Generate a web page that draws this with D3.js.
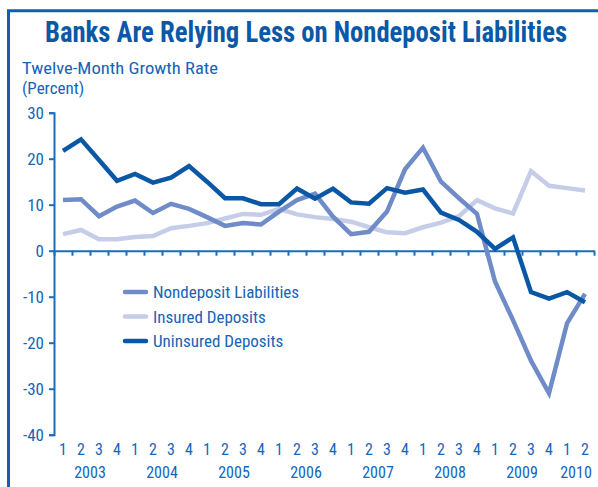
<!DOCTYPE html>
<html>
<head>
<meta charset="utf-8">
<script src="https://cdn.jsdelivr.net/npm/d3@7"></script>
<style>
  body { margin: 0; background: #fff; }
  svg text { font-family: "Liberation Sans Narrow", "Arial Narrow", "Roboto Condensed", sans-serif; }
</style>
</head>
<body>
<script>
var width = 598,
  height = 487;

// quarters 2003Q1 .. 2010Q2
var quarters = [1, 2, 3, 4, 1, 2, 3, 4, 1, 2, 3, 4, 1, 2, 3, 4, 1, 2, 3, 4, 1, 2, 3, 4, 1, 2, 3, 4, 1, 2];
var years = ["2003", "2004", "2005", "2006", "2007", "2008", "2009", "2010"];
var yTicks = [30, 20, 10, 0, -10, -20, -30, -40];

var nondeposit = [11.0, 11.2, 7.5, 9.6, 10.9, 8.2, 10.2, 9.1, 7.3, 5.4, 6.0, 5.7, 8.5, 11.0, 12.4,
  7.4, 3.6, 4.1, 8.5, 17.7, 22.4, 15.0, 11.4, 8.0, -6.7, -15.1, -23.9, -31.0, -15.8, -9.4];
var insured = [3.6, 4.5, 2.5, 2.5, 3.0, 3.2, 4.9, 5.4, 6.0, 7.0, 8.0, 7.8, 9.1, 7.9, 7.3,
  6.9, 6.3, 5.1, 4.0, 3.8, 5.1, 6.1, 7.5, 11.0, 9.2, 8.1, 17.3, 14.1, 13.6, 13.1];
var uninsured = [21.7, 24.2, 19.7, 15.2, 16.7, 14.8, 15.9, 18.4, 15.0, 11.4, 11.4, 10.1, 10.1, 13.5, 11.3,
  13.5, 10.5, 10.2, 13.6, 12.6, 13.3, 8.3, 6.7, 4.1, 0.4, 2.9, -9.0, -10.4, -9.0, -11.2];

var seriesNames = ["Nondeposit Liabilities", "Insured Deposits", "Uninsured Deposits"];
var seriesColors = ["#6f8bc8", "#c5cde8", "#0a57a6"];
var textColor = "#1664b6";
var axisColor = "#1a6cbd";

var svg = d3.select("body").append("svg")
  .attr("width", width)
  .attr("height", height);

// frame
svg.append("rect")
  .attr("x", 8.5)
  .attr("y", 10.75)
  .attr("width", 620)
  .attr("height", 520)
  .attr("fill", "none")
  .attr("stroke", "#135fae")
  .attr("stroke-width", 3);

// title (slightly stretched up, like the condensed original)
svg.append("text")
  .attr("transform", "translate(306,42) scale(1,1.16)")
  .attr("text-anchor", "middle")
  .attr("font-size", 25)
  .attr("font-weight", "bold")
  .attr("fill", "#0b59a6")
  .attr("textLength", 522)
  .attr("lengthAdjust", "spacingAndGlyphs")
  .text("Banks Are Relying Less on Nondeposit Liabilities");

svg.append("text")
  .attr("x", 22)
  .attr("y", 74)
  .attr("font-size", 17)
  .attr("fill", textColor)
  .attr("textLength", 196)
  .attr("lengthAdjust", "spacingAndGlyphs")
  .text("Twelve-Month Growth Rate");

svg.append("text")
  .attr("x", 22)
  .attr("y", 94)
  .attr("font-size", 17)
  .attr("fill", textColor)
  .text("(Percent)");

// scales
var x = d3.scaleLinear()
  .domain([-0.5, quarters.length - 0.5])
  .range([54, 594]);

var y = d3.scaleLinear()
  .domain([-40, 30])
  .range([434.7, 112.7]);

// y axis
var yAxis = svg.append("g")
  .attr("transform", "translate(54,0)")
  .call(d3.axisLeft(y).tickValues(yTicks).tickSize(5).tickPadding(5).tickFormat(d3.format("d")));

yAxis.select(".domain").attr("stroke", axisColor).attr("stroke-width", 2);
yAxis.selectAll(".tick line").attr("stroke", axisColor).attr("stroke-width", 2);
yAxis.selectAll(".tick text")
  .attr("fill", textColor)
  .attr("font-size", 17)
  .attr("font-family", "'Liberation Sans Narrow', 'Arial Narrow', sans-serif")
  .text(function (d) { return d < 0 ? "-" + Math.abs(d) : d; });

// x axis at zero
var boundaries = d3.range(0, quarters.length + 1).map(function (i) { return i - 0.5; });

var xAxis = svg.append("g")
  .attr("transform", "translate(0," + y(0) + ")")
  .call(d3.axisBottom(x).tickValues(boundaries).tickSize(5).tickSizeOuter(0).tickFormat(""));

xAxis.select(".domain").attr("stroke", axisColor).attr("stroke-width", 2);
xAxis.selectAll(".tick line").attr("stroke", axisColor).attr("stroke-width", 2);

// quarter labels
svg.append("g").selectAll("text")
  .data(quarters)
  .enter()
  .append("text")
  .attr("x", function (d, i) { return x(i); })
  .attr("y", 455)
  .attr("text-anchor", "middle")
  .attr("font-size", 16)
  .attr("fill", textColor)
  .text(function (d) { return d; });

// year labels, centred under their quarters
svg.append("g").selectAll("text")
  .data(years)
  .enter()
  .append("text")
  .attr("x", function (d, i) {
    var first = i * 4;
    var last = Math.min(first + 3, quarters.length - 1);
    return (x(first) + x(last)) / 2;
  })
  .attr("y", 478)
  .attr("text-anchor", "middle")
  .attr("font-size", 16)
  .attr("fill", textColor)
  .text(function (d) { return d; });

// lines
var line = d3.line()
  .x(function (d, i) { return x(i); })
  .y(function (d) { return y(d); });

var series = [nondeposit, insured, uninsured];
var drawOrder = [1, 0, 2];

svg.append("g").selectAll("path")
  .data(drawOrder)
  .enter()
  .append("path")
  .attr("d", function (k) { return line(series[k]); })
  .attr("fill", "none")
  .attr("stroke", function (k) { return seriesColors[k]; })
  .attr("stroke-width", 4.5)
  .attr("stroke-linejoin", "miter");

// legend
var legend = svg.append("g").selectAll("g")
  .data(seriesNames)
  .enter()
  .append("g")
  .attr("transform", function (d, i) { return "translate(125," + (292 + i * 24.5) + ")"; });

legend.append("line")
  .attr("x1", 0)
  .attr("x2", 21)
  .attr("stroke", function (d, i) { return seriesColors[i]; })
  .attr("stroke-width", 4.5)
  .attr("stroke-linecap", "round");

legend.append("text")
  .attr("x", 28)
  .attr("y", 6)
  .attr("font-size", 17)
  .attr("fill", textColor)
  .text(function (d) { return d; });
</script>
</body>
</html>
